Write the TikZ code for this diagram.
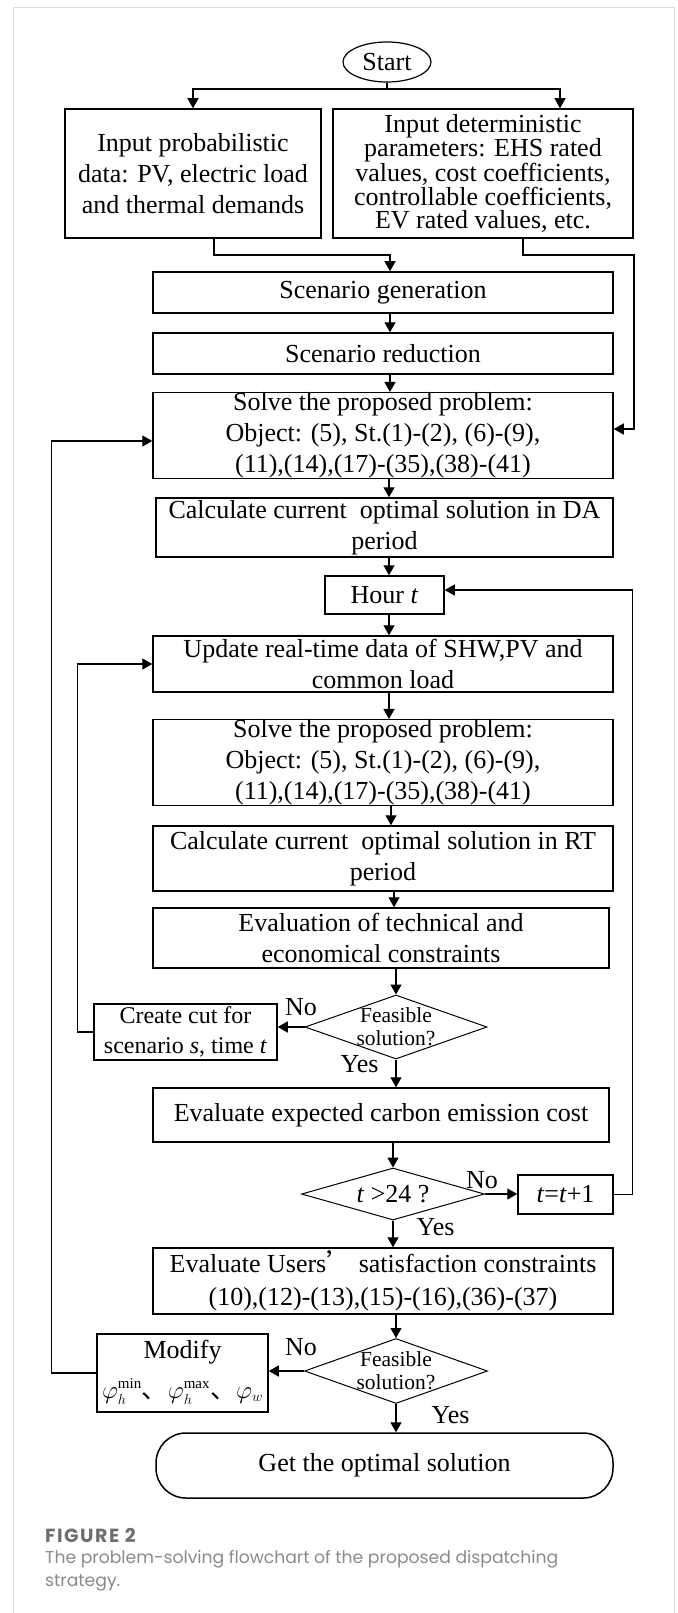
\documentclass[tikz,border=0pt]{standalone}
\usepackage{fontspec}
\setmainfont{Liberation Serif}
\newfontfamily\cjk{Noto Sans CJK SC}
\newfontfamily\capfont{Poppins}
\newfontfamily\figfont[LetterSpace=8]{Poppins}
\DeclareMathSizes{26}{26}{15}{11}
\usetikzlibrary{shapes.geometric,arrows.meta}

\definecolor{framegray}{HTML}{DDDDDD}
\definecolor{figgray}{HTML}{6E6E6E}
\definecolor{capgray}{HTML}{8A8A8A}

\tikzset{
  box/.style={draw, line width=1.5pt, inner sep=0pt, align=center},
  decision/.style={draw, diamond, line width=1pt, inner sep=0pt},
  dtext/.style={align=center, inner sep=0pt, font=\fontsize{21.5}{23}\selectfont},
  flow/.style={line width=1.3pt, -{Triangle[length=10pt,width=11pt]}},
  wire/.style={line width=1.3pt},
}

\begin{document}
\begin{tikzpicture}[x=1pt, y=-1pt, every node/.style={font=\fontsize{26}{31}\selectfont}]
  \useasboundingbox (0,0) rectangle (677,1613);
  \draw[framegray, line width=1pt] (13,1613) -- (13,8) -- (674,8) -- (674,1613);

  % inputs and day-ahead stage
  \node[draw, ellipse, line width=1.2pt, inner sep=0pt, minimum width=88pt, minimum height=40pt] (start) at (387,62) {Start};
  \node[box, minimum width=256pt, minimum height=129pt] (inprob) at (193,173.5) {Input probabilistic\\data: PV, electric load\\and thermal demands};
  \node[box, minimum width=300pt, minimum height=129pt, font={\fontsize{26}{23.5}\selectfont}] (indet) at (483,173.5) {Input deterministic\\parameters: EHS rated\\values, cost coefficients,\\controllable coefficients,\\EV rated values, etc.};
  \node[box, minimum width=460pt, minimum height=41pt] (scengen) at (383,292.5) {Scenario generation};
  \node[box, minimum width=460pt, minimum height=41pt] (scenred) at (383,353.5) {Scenario reduction};
  \node[box, minimum width=460pt, minimum height=85pt] (solve1) at (383,435.5) {Solve the proposed problem:\\Object: (5), St.(1)-(2), (6)-(9),\\(11),(14),(17)-(35),(38)-(41)};
  \node[box, minimum width=457pt, minimum height=59pt] (calcda) at (384.5,527.5) {Calculate current~ optimal solution in DA\\period};

  % real-time stage
  \node[box, minimum width=119pt, minimum height=38pt] (hour) at (384.5,595) {Hour \textit{t}};
  \node[box, minimum width=460pt, minimum height=56pt] (update) at (383,664) {Update real-time data of SHW,PV and\\common load};
  \node[box, minimum width=460pt, minimum height=85pt] (solve2) at (383,762.5) {Solve the proposed problem:\\Object: (5), St.(1)-(2), (6)-(9),\\(11),(14),(17)-(35),(38)-(41)};
  \node[box, minimum width=460pt, minimum height=65pt] (calcrt) at (383,858.5) {Calculate current~ optimal solution in RT\\period};
  \node[box, minimum width=456pt, minimum height=60pt] (evaltech) at (381,938) {Evaluation of technical and\\economical constraints};
  \node[decision, minimum width=182pt, minimum height=64pt] (feas1) at (396,1027) {};
  \node[dtext] (feas1txt) at (feas1) {Feasible\\solution?};
  \node[box, minimum width=183pt, minimum height=56pt, font={\fontsize{24}{30}\selectfont}] (cut) at (185.5,1032) {Create cut for\\scenario \textit{s}, time \textit{t}};
  \node[box, minimum width=456pt, minimum height=54pt] (evalcarb) at (381,1115) {Evaluate expected carbon emission cost};
  \node[decision, minimum width=183pt, minimum height=52pt] (feas24) at (393,1194) {};
  \node[inner sep=0pt] (feas24txt) at (feas24) {\textit{t} >24 ?};
  \node[box, minimum width=95pt, minimum height=39pt] (tnext) at (565.5,1194.5) {\textit{t}=\textit{t}+1};

  % users' satisfaction check
  \node[box, minimum width=460pt, minimum height=66pt, font={\fontsize{26}{33}\selectfont}] (evalusers) at (383,1281) {Evaluate Users{\cjk ’} satisfaction constraints\\(10),(12)-(13),(15)-(16),(36)-(37)};
  \node[decision, minimum width=183pt, minimum height=65pt] (feas2) at (396,1371) {};
  \node[dtext] (feas2txt) at (feas2) {Feasible\\solution?};
  \node[box, minimum width=171pt, minimum height=78pt] (modify) at (182.5,1373) {};
  \node[anchor=base, inner sep=0pt] (modtitle) at (182.5,1358) {Modify};
  \node[anchor=base, inner sep=0pt] (modparams) at (182.5,1398) {$\varphi_h^{\min}$\smash{\cjk 、}$\varphi_h^{\max}$\smash{\cjk 、}$\varphi_w$};
  \node[box, rounded corners=30pt, minimum width=457pt, minimum height=65pt] (final) at (384.5,1465.5) {Get the optimal solution};

  % branch labels
  \node (no1) at (301,1007) {No};
  \node (yes1) at (359.5,1064) {Yes};
  \node (no2) at (482,1180) {No};
  \node (yes2) at (435.5,1227) {Yes};
  \node (no3) at (301,1347) {No};
  \node (yes3) at (450.5,1415) {Yes};

  % connectors
  \coordinate (spine) at (389,0);
  \coordinate (fork) at (387,89);
  \coordinate (lfeed) at (390,255);
  \coordinate (rfeed) at (634,255);
  \draw[wire] (start) -- (fork);
  \draw[flow] (fork) -| (inprob);
  \draw[flow] (fork) -| ([xshift=77pt]indet.north);
  \draw[flow] ([xshift=21pt]inprob.south) |- (lfeed) -- (lfeed |- scengen.north);
  \draw[flow] ([xshift=40pt]indet.south) |- (rfeed) |- ([yshift=6.5pt]solve1.east);
  \draw[flow] (scengen.south -| lfeed) -- (scenred.north -| lfeed);
  \draw[flow] (scenred.south -| lfeed) -- (solve1.north -| lfeed);
  \draw[flow] (solve1.south -| spine) -- (calcda.north -| spine);
  \draw[flow] (calcda.south -| spine) -- (hour.north -| spine);
  \draw[flow] (hour.south -| spine) -- (update.north -| spine);
  \draw[flow] (update.south -| spine) -- (solve2.north -| spine);
  \draw[flow] ([xshift=2pt]solve2.south -| spine) -- ([xshift=2pt]calcrt.north -| spine);
  \draw[flow] ([xshift=5pt]calcrt.south -| spine) -- ([xshift=5pt]evaltech.north -| spine);
  \draw[flow] (evaltech.south -| feas1) -- (feas1);
  \draw[flow] (feas1.west) -- (feas1.west -| cut.east);
  \draw[flow] (cut.west) -- ++(-16,0) |- (update.west);
  \draw[flow] (feas1.south) -- (evalcarb.north -| feas1);
  \draw[flow] (evalcarb.south -| feas24) -- (feas24);
  \draw[flow] (feas24.east) -- (feas24.east -| tnext.west);
  \draw[flow] (tnext.east) -- ++(19,0) |- ([yshift=5pt]hour.east);
  \draw[flow] (feas24.south) -- (evalusers.north -| feas24);
  \draw[flow] (evalusers.south -| feas2) -- (feas2);
  \draw[flow] (feas2.west) -- (feas2.west -| modify.east);
  \draw[flow] (modify.west) -- ++(-45,0) |- ([yshift=-5.5pt]solve1.west);
  \draw[flow] (feas2.south) -- (final.north -| feas2);

  % caption
  \node[anchor=base west, inner sep=0pt, text=figgray, font={\figfont\bfseries\fontsize{19}{20}\selectfont}] (figlabel) at (45,1542) {FIGURE 2};
  \node[anchor=base west, inner sep=0pt, text=capgray, font={\capfont\fontsize{17.2}{23}\selectfont}] (capline1) at (45,1563) {The problem-solving flowchart of the proposed dispatching};
  \node[anchor=base west, inner sep=0pt, text=capgray, font={\capfont\fontsize{17.2}{23}\selectfont}] (capline2) at (45,1586) {strategy.};
\end{tikzpicture}
\end{document}
